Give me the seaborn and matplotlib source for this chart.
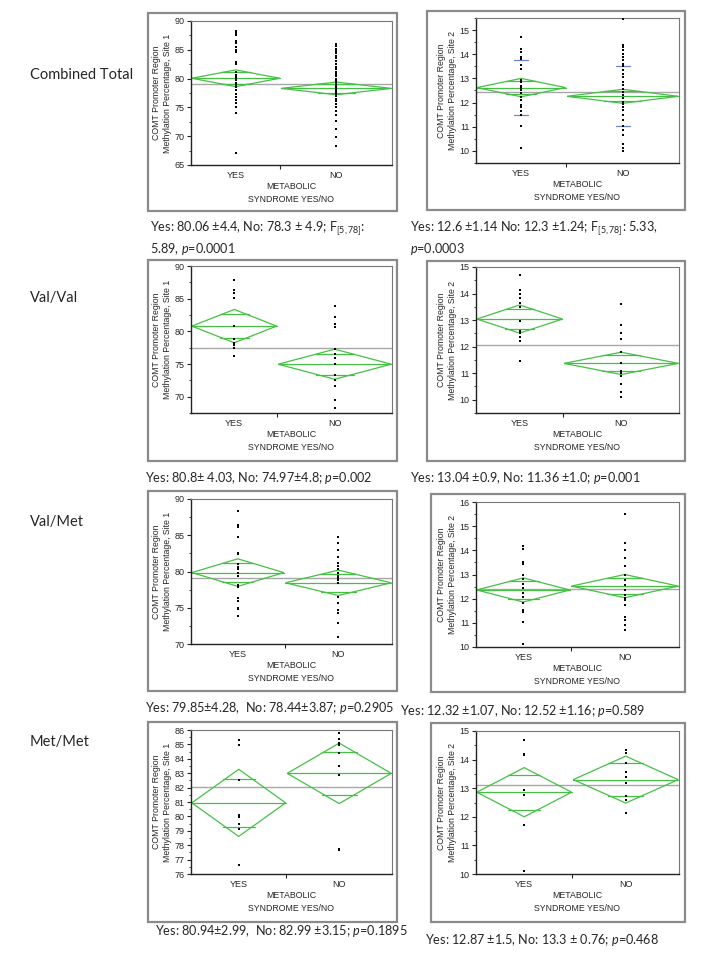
import numpy as np
import pandas as pd
import seaborn as sns
import matplotlib
matplotlib.use("Agg")
from matplotlib import pyplot as plt
from matplotlib.patches import Polygon, Rectangle
from matplotlib.ticker import MultipleLocator, FixedLocator

# %% data
rows = ["Combined Total", "Val/Val", "Val/Met", "Met/Met"]
groups = ["YES", "NO"]
yes_share = [0.445, 0.43, 0.466, 0.475]   # x width of YES group (JMP scales by n)

# site 1 points
s1_ct_yes = [88.2, 87.9, 87.6, 86.5, 86.2, 85.5, 85.0, 84.6, 82.9, 82.6, 81.2, 80.6, 80.2, 79.9,
             79.7, 79.3, 78.9, 78.5, 78.0, 77.4, 76.8, 76.3, 75.7, 75.1, 74.0, 67.1]
s1_ct_no = [86.0, 85.6, 85.2, 84.8, 84.4, 84.0, 83.5, 83.0, 82.5, 82.0, 81.6, 81.2, 80.8, 80.4,
            80.0, 79.6, 79.3, 79.0, 78.7, 78.4, 78.1, 77.8, 77.5, 77.2, 76.9, 76.5, 76.1, 75.6,
            75.0, 74.4, 73.6, 72.6, 71.3, 69.9, 68.3]
s1_vv_yes = [87.8, 86.4, 85.9, 85.1, 80.8, 78.9, 78.2, 77.9, 77.5, 76.3]
s1_vv_no = [83.9, 82.2, 81.1, 80.7, 77.3, 76.6, 75.9, 75.0, 73.3, 72.6, 71.6, 69.5, 68.3]
s1_vm_yes = [88.3, 86.4, 86.1, 84.7, 82.6, 82.4, 81.1, 80.6, 80.3, 79.8, 79.4, 78.1, 77.9, 76.4,
             75.9, 75.0, 74.8, 73.9]
s1_vm_no = [84.8, 83.9, 83.0, 82.0, 81.2, 80.8, 80.3, 79.8, 79.4, 79.2, 79.0, 78.8, 78.45, 76.5,
            75.7, 74.7, 74.3, 72.85, 70.9]
s1_mm_yes = [85.3, 84.96, 82.5, 80.1, 79.95, 79.5, 79.1, 76.6]
s1_mm_no = [85.77, 85.4, 85.08, 84.95, 84.4, 83.5, 82.9, 77.75, 77.7]

# site 2 points
s2_ct_yes = [14.7, 14.2, 14.1, 13.9, 13.8, 13.55, 13.4, 12.95, 12.85, 12.7, 12.6, 12.5, 12.4,
             12.25, 12.1, 11.9, 11.8, 11.65, 11.5, 11.02, 10.1]
s2_ct_no = [15.45, 14.38, 14.3, 14.17, 14.03, 13.9, 13.76, 13.6, 13.5, 13.35, 13.2, 13.04, 12.86,
            12.72, 12.58, 12.44, 12.3, 12.17, 12.03, 11.96, 11.82, 11.68, 11.48, 11.27, 11.02,
            10.86, 10.65, 10.3, 10.1, 10.0]
s2_vv_yes = [14.7, 14.15, 14.0, 13.85, 13.65, 13.5, 12.95, 12.6, 12.5, 12.35, 12.2, 11.45]
s2_vv_no = [13.6, 12.8, 12.5, 12.3, 11.8, 11.4, 11.1, 11.0, 10.9, 10.6, 10.3, 10.1]
s2_vm_yes = [14.2, 14.05, 13.5, 13.42, 13.0, 12.8, 12.6, 12.45, 12.25, 12.07, 11.83, 11.55, 11.45,
             11.03, 10.12]
s2_vm_no = [15.5, 14.29, 14.0, 13.7, 13.35, 12.97, 12.76, 12.55, 12.35, 12.14, 12.04, 11.96,
            11.72, 11.23, 11.1, 10.93, 10.7]
s2_mm_yes = [14.67, 14.2, 14.15, 12.93, 12.75, 11.7, 10.12]
s2_mm_no = [14.35, 14.24, 13.87, 13.55, 13.38, 13.17, 12.73, 12.6, 12.13]

# means diamonds (mean, 95% CI half height) and grand mean
s1_mean_yes = [80.06, 80.8, 79.85, 80.94]
s1_mean_no = [78.3, 74.97, 78.44, 82.99]
s1_ci_yes = [1.45, 2.55, 1.9, 2.33]
s1_ci_no = [1.1, 2.3, 1.75, 2.1]
s1_grand = [79.1, 77.5, 79.1, 82.05]

s2_mean_yes = [12.62, 13.04, 12.36, 12.86]
s2_mean_no = [12.26, 11.37, 12.52, 13.3]
s2_ci_yes = [0.38, 0.53, 0.5, 0.86]
s2_ci_no = [0.29, 0.42, 0.48, 0.82]
s2_grand = [12.45, 12.07, 12.42, 13.1]
s2_ct_sd = [1.14, 1.24]   # std dev marks, combined total only

s1_ylim = [(65, 90), (67.5, 90), (70, 90), (76, 86)]
s2_ylim = [(9.5, 15.5), (9.5, 15), (10, 16), (10, 15)]
s1_step = [5, 5, 5, 1]

captions_s1 = ["Yes: 80.06 \u00b14.4, No: 78.3 \u00b1 4.9; F$_{[5,78]}$:\n5.89, $p$=0.0001",
               "Yes: 80.8\u00b1 4.03, No: 74.97\u00b14.8; $p$=0.002",
               "Yes: 79.85\u00b14.28,  No: 78.44\u00b13.87; $p$=0.2905",
               "Yes: 80.94\u00b12.99,  No: 82.99 \u00b13.15; $p$=0.1895"]
captions_s2 = ["Yes: 12.6 \u00b11.14 No: 12.3 \u00b11.24; F$_{[5,78]}$: 5.33,\n$p$=0.0003",
               "Yes: 13.04 \u00b10.9, No: 11.36 \u00b11.0; $p$=0.001",
               "Yes: 12.32 \u00b11.07, No: 12.52 \u00b11.16; $p$=0.589",
               "Yes: 12.87 \u00b11.5, No: 13.3 \u00b1 0.76; $p$=0.468"]

pts_s1 = [(s1_ct_yes, s1_ct_no), (s1_vv_yes, s1_vv_no), (s1_vm_yes, s1_vm_no), (s1_mm_yes, s1_mm_no)]
pts_s2 = [(s2_ct_yes, s2_ct_no), (s2_vv_yes, s2_vv_no), (s2_vm_yes, s2_vm_no), (s2_mm_yes, s2_mm_no)]

# %% layout (pixels)
W, H = 716, 957
plot_y = [(21, 165, 18, 163), (266, 413, 267, 413), (499, 644, 502, 647), (730, 874, 731, 874)]
frame_y = [(13, 211, 11, 210), (260, 461, 261, 461), (491, 691, 494, 692), (722, 922, 723, 922)]
cap_pos = [((150, 238), (410, 238)), ((145, 478), (410, 478)), ((145, 708), (400, 711)),
           ((155, 931), (425, 940))]
label_y = [75, 298, 522, 742]

GREEN = "#45c045"

sns.set_style("white")
plt.rcParams["font.family"] = ["Liberation Sans", "DejaVu Sans"]
plt.rcParams["mathtext.fontset"] = "custom"
plt.rcParams["mathtext.rm"] = "Lato"
plt.rcParams["mathtext.it"] = "Lato:italic"

fig = plt.figure(figsize=(W / 100, H / 100), dpi=100)


def add_ax(x0, y0, x1, y1):
    return fig.add_axes([x0 / W, 1 - y1 / H, (x1 - x0) / W, (y1 - y0) / H])


def panel(ax, yes, no, m_yes, m_no, h_yes, h_no, grand, share, ylim, step, site, sd=None):
    spans = [(0.0, share), (share, 1.0)]
    centers = [share / 2, (1 + share) / 2]
    df = pd.DataFrame({"x": [centers[0]] * len(yes) + [centers[1]] * len(no),
                       "y": list(yes) + list(no)})
    ax.axhline(grand, color="#a8a8a8", lw=1.0, zorder=1)
    for (x0, x1), m, h in zip(spans, [m_yes, m_no], [h_yes, h_no]):
        xc = (x0 + x1) / 2
        x0 += 0.004
        x1 -= 0.004
        ax.add_patch(Polygon([(x0, m), (xc, m + h), (x1, m), (xc, m - h)], closed=True,
                             fill=False, ec=GREEN, lw=0.9, zorder=2))
        ax.plot([x0, x1], [m, m], color=GREEN, lw=0.9, zorder=2)
        d = h / np.sqrt(2)
        hw = (x1 - x0) / 2 * (1 - d / h) * 1.15
        for s in (1, -1):
            ax.plot([xc - hw, xc + hw], [m + s * d] * 2, color=GREEN, lw=0.9, zorder=2)
    if sd is not None:
        for xc, m, s in zip(centers, [m_yes, m_no], sd):
            for v in (m + s, m - s):
                ax.plot([xc - 0.035, xc + 0.035], [v, v], color="#6a86c8", lw=0.9, zorder=3)
    sns.scatterplot(data=df, x="x", y="y", ax=ax, marker="s", s=2.2, color="black",
                    linewidth=0, legend=False, zorder=4)
    ax.set_xlim(0, 1)
    ax.set_ylim(*ylim)
    ax.set_xticks(centers)
    ax.set_xticklabels(groups)
    ax.xaxis.set_minor_locator(FixedLocator([share]))
    ax.tick_params(axis="x", which="major", length=0, pad=4, labelsize=6.5)
    ax.tick_params(axis="x", which="minor", length=3, width=0.8, direction="out", bottom=True)
    ax.yaxis.set_major_locator(MultipleLocator(step))
    ax.yaxis.set_minor_locator(MultipleLocator(step / 2))
    ax.tick_params(axis="y", which="major", length=3, width=0.8, direction="out", left=True,
                   labelsize=6.5, pad=1.5)
    ax.tick_params(axis="y", which="minor", length=1.8, width=0.6, direction="out", left=True)
    ax.set_xlabel("METABOLIC\nSYNDROME YES/NO", fontsize=6.3, linespacing=1.5, labelpad=2)
    ax.set_ylabel("COMT Promoter Region\nMethylation Percentage, Site %d" % site, fontsize=6.3,
                  linespacing=1.3, labelpad=2)
    for side in ("left", "bottom"):
        ax.spines[side].set_color("#222222")
        ax.spines[side].set_linewidth(1.0)
    for side in ("top", "right"):
        ax.spines[side].set_color("#777777")
        ax.spines[side].set_linewidth(0.8)


for i in range(4):
    ly0, ly1, ry0, ry1 = plot_y[i]
    fl0, fl1, fr0, fr1 = frame_y[i]
    # gray frames around each JMP panel
    fig.add_artist(Rectangle((148 / W, 1 - fl1 / H), (397 - 148) / W, (fl1 - fl0) / H,
                             transform=fig.transFigure, fill=False, ec="#8a8a8a", lw=1.6))
    rx0 = 427 if i < 2 else 431
    fig.add_artist(Rectangle((rx0 / W, 1 - fr1 / H), (685 - rx0) / W, (fr1 - fr0) / H,
                             transform=fig.transFigure, fill=False, ec="#8a8a8a", lw=1.6))

    ax1 = add_ax(191, ly0, 392, ly1)
    panel(ax1, pts_s1[i][0], pts_s1[i][1], s1_mean_yes[i], s1_mean_no[i], s1_ci_yes[i],
          s1_ci_no[i], s1_grand[i], yes_share[i], s1_ylim[i], s1_step[i], 1)
    ax2 = add_ax(476, ry0, 679, ry1)
    panel(ax2, pts_s2[i][0], pts_s2[i][1], s2_mean_yes[i], s2_mean_no[i], s2_ci_yes[i],
          s2_ci_no[i], s2_grand[i], yes_share[i], s2_ylim[i], 1, 2,
          sd=s2_ct_sd if i == 0 else None)

    (cx1, cy1), (cx2, cy2) = cap_pos[i]
    fig.text(cx1 / W, 1 - cy1 / H, captions_s1[i], fontsize=9.1, family="Lato",
             va="center", ha="left", linespacing=1.25)
    fig.text(cx2 / W, 1 - cy2 / H, captions_s2[i], fontsize=9.1, family="Lato",
             va="center", ha="left", linespacing=1.25)
    fig.text(30 / W, 1 - label_y[i] / H, rows[i], fontsize=10.5, family="Lato",
             va="center", ha="left")

fig.savefig("out.png", dpi=100)
